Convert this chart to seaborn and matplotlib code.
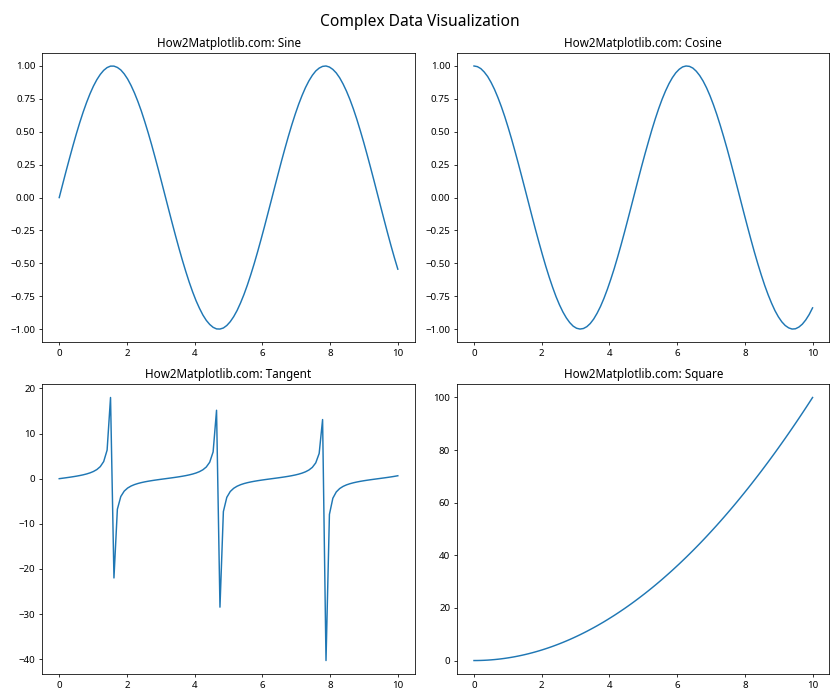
import numpy as np
import pandas as pd
import matplotlib
matplotlib.use("Agg")
import matplotlib.pyplot as plt
import seaborn as sns

# sample positions (100 points between 0 and 10)
x_vals = [
    0.000, 0.101, 0.202, 0.303, 0.404, 0.505, 0.606, 0.707, 0.808, 0.909,
    1.010, 1.111, 1.212, 1.313, 1.414, 1.515, 1.616, 1.717, 1.818, 1.919,
    2.020, 2.121, 2.222, 2.323, 2.424, 2.525, 2.626, 2.727, 2.828, 2.929,
    3.030, 3.131, 3.232, 3.333, 3.434, 3.535, 3.636, 3.737, 3.838, 3.939,
    4.040, 4.141, 4.242, 4.343, 4.444, 4.545, 4.646, 4.747, 4.848, 4.949,
    5.051, 5.152, 5.253, 5.354, 5.455, 5.556, 5.657, 5.758, 5.859, 5.960,
    6.061, 6.162, 6.263, 6.364, 6.465, 6.566, 6.667, 6.768, 6.869, 6.970,
    7.071, 7.172, 7.273, 7.374, 7.475, 7.576, 7.677, 7.778, 7.879, 7.980,
    8.081, 8.182, 8.283, 8.384, 8.485, 8.586, 8.687, 8.788, 8.889, 8.990,
    9.091, 9.192, 9.293, 9.394, 9.495, 9.596, 9.697, 9.798, 9.899, 10.000,
]

sine_vals = [
    0.000, 0.101, 0.201, 0.298, 0.393, 0.484, 0.570, 0.650, 0.723, 0.789,
    0.847, 0.896, 0.936, 0.967, 0.988, 0.999, 0.999, 0.989, 0.970, 0.940,
    0.901, 0.852, 0.795, 0.730, 0.658, 0.578, 0.493, 0.403, 0.308, 0.211,
    0.111, 0.010, -0.091, -0.191, -0.289, -0.384, -0.475, -0.561, -0.642, -0.716,
    -0.783, -0.841, -0.892, -0.933, -0.964, -0.986, -0.998, -0.999, -0.991, -0.972,
    -0.943, -0.905, -0.858, -0.801, -0.737, -0.665, -0.586, -0.502, -0.412, -0.318,
    -0.221, -0.121, -0.021, 0.080, 0.180, 0.279, 0.374, 0.466, 0.553, 0.634,
    0.709, 0.776, 0.836, 0.887, 0.929, 0.962, 0.984, 0.997, 1.000, 0.992,
    0.974, 0.947, 0.910, 0.863, 0.808, 0.745, 0.674, 0.596, 0.511, 0.422,
    0.328, 0.231, 0.132, 0.031, -0.070, -0.170, -0.269, -0.365, -0.457, -0.544,
]

cosine_vals = [
    1.000, 0.995, 0.980, 0.954, 0.920, 0.875, 0.822, 0.760, 0.691, 0.615,
    0.532, 0.444, 0.351, 0.255, 0.156, 0.056, -0.045, -0.146, -0.245, -0.341,
    -0.434, -0.523, -0.606, -0.683, -0.754, -0.816, -0.870, -0.915, -0.951, -0.978,
    -0.994, -1.000, -0.996, -0.982, -0.958, -0.924, -0.880, -0.828, -0.767, -0.698,
    -0.622, -0.541, -0.453, -0.361, -0.265, -0.166, -0.066, 0.035, 0.136, 0.235,
    0.332, 0.424, 0.514, 0.598, 0.676, 0.747, 0.810, 0.865, 0.911, 0.948,
    0.975, 0.993, 1.000, 0.997, 0.984, 0.960, 0.927, 0.885, 0.834, 0.774,
    0.706, 0.631, 0.549, 0.462, 0.371, 0.275, 0.176, 0.076, -0.025, -0.126,
    -0.225, -0.322, -0.416, -0.505, -0.589, -0.668, -0.739, -0.803, -0.860, -0.907,
    -0.945, -0.973, -0.991, -1.000, -0.998, -0.985, -0.963, -0.931, -0.890, -0.839,
]

tangent_vals = [
    0.000, 0.101, 0.205, 0.313, 0.428, 0.553, 0.693, 0.854, 1.047, 1.284,
    1.593, 2.020, 2.669, 3.794, 6.332, 17.99, -22.00, -6.776, -3.958, -2.756,
    -2.075, -1.630, -1.312, -1.069, -0.873, -0.708, -0.566, -0.440, -0.324, -0.216,
    -0.112, -0.010, 0.091, 0.194, 0.301, 0.416, 0.540, 0.678, 0.837, 1.025,
    1.257, 1.557, 1.968, 2.585, 3.642, 5.934, 15.16, -28.47, -7.285, -4.137,
    -2.845, -2.134, -1.670, -1.340, -1.090, -0.891, -0.724, -0.580, -0.452, -0.336,
    -0.226, -0.122, -0.021, 0.081, 0.183, 0.290, 0.403, 0.526, 0.663, 0.819,
    1.004, 1.231, 1.522, 1.918, 2.506, 3.502, 5.586, 13.10, -40.30, -7.905,
    -4.332, -2.940, -2.187, -1.709, -1.371, -1.116, -0.912, -0.743, -0.595, -0.465,
    -0.347, -0.237, -0.133, -0.031, 0.070, 0.173, 0.279, 0.392, 0.513, 0.648,
]

square_vals = [
    0.000, 0.010, 0.041, 0.092, 0.163, 0.255, 0.367, 0.500, 0.653, 0.826,
    1.020, 1.235, 1.469, 1.724, 2.000, 2.296, 2.612, 2.949, 3.306, 3.683,
    4.081, 4.500, 4.938, 5.397, 5.877, 6.377, 6.897, 7.438, 7.999, 8.581,
    9.183, 9.805, 10.45, 11.11, 11.80, 12.50, 13.22, 13.97, 14.73, 15.52,
    16.33, 17.15, 18.00, 18.87, 19.75, 20.66, 21.59, 22.54, 23.51, 24.50,
    25.51, 26.54, 27.59, 28.66, 29.75, 30.86, 32.00, 33.15, 34.32, 35.52,
    36.73, 37.97, 39.22, 40.50, 41.79, 43.11, 44.44, 45.80, 47.18, 48.58,
    50.00, 51.43, 52.89, 54.37, 55.87, 57.39, 58.93, 60.49, 62.08, 63.68,
    65.30, 66.94, 68.61, 70.29, 71.99, 73.72, 75.46, 77.23, 79.01, 80.82,
    82.65, 84.49, 86.36, 88.25, 90.15, 92.08, 94.03, 96.00, 97.99, 100.0,
]

titles = ["Sine", "Cosine", "Tangent", "Square"]
series = [sine_vals, cosine_vals, tangent_vals, square_vals]

plt.rcParams['font.family'] = ['Noto Sans', 'DejaVu Sans']

fig, axes = plt.subplots(2, 2, figsize=(12, 10), dpi=70)
fig.suptitle("Complex Data Visualization", fontsize=16)

for ax, name, vals in zip(axes.flat, titles, series):
    df = pd.DataFrame({"x": x_vals, "y": vals})
    sns.lineplot(data=df, x="x", y="y", ax=ax, color="#1f77b4")
    ax.set_title(f"How2Matplotlib.com: {name}")
    ax.set_xlabel("")
    ax.set_ylabel("")

plt.tight_layout()
plt.savefig("out.png")
